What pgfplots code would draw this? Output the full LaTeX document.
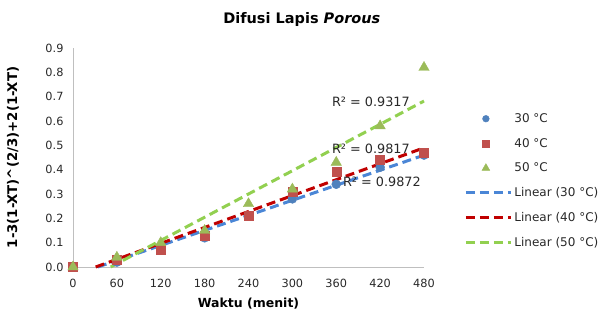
\documentclass[border=0pt]{standalone}
\usepackage{pgfplots}
\pgfplotsset{compat=1.18}
\usepackage{fontspec}
\setmainfont{DejaVu Sans}
\definecolor{c30}{RGB}{79,129,189}
\definecolor{c40}{RGB}{192,80,77}
\definecolor{c50}{RGB}{155,187,89}
\definecolor{t30}{RGB}{74,134,214}
\definecolor{t40}{RGB}{192,0,0}
\definecolor{t50}{RGB}{146,208,80}
\definecolor{axgray}{RGB}{191,191,191}
\definecolor{txt}{RGB}{40,40,40}
\pgfplotsset{
  markleg/.style={legend image code/.code={\draw[mark repeat=2,mark phase=2,##1, mark options={scale=0.75}] plot coordinates {(0pt,0pt)(20pt,0pt)(40pt,0pt)};}},
  lineleg/.style={legend image code/.code={\draw[##1] (0pt,0pt) -- (45pt,0pt);}},
}
\begin{document}
\begin{tikzpicture}
\useasboundingbox (-73pt,-45pt) rectangle (529pt,267pt);
\begin{axis}[
  scale only axis, width=351pt, height=219pt,
  at={(0,0)}, anchor=south west,
  xmin=0, xmax=480, ymin=0, ymax=0.9,
  clip=false,
  axis lines*=left,
  axis line style={axgray, line width=0.8pt},
  major tick length=0pt,
  xtick={0,60,120,180,240,300,360,420,480},
  ytick={0,0.1,0.2,0.3,0.4,0.5,0.6,0.7,0.8,0.9},
  /pgf/number format/assume math mode=true,
  yticklabel style={/pgf/number format/fixed, /pgf/number format/fixed zerofill, /pgf/number format/precision=1, font=\fontsize{11.3}{13}\selectfont, text=txt, xshift=-6pt},
  xticklabel style={font=\fontsize{11.3}{13}\selectfont, text=txt, yshift=-9pt},
  every axis title shift=0pt,
  title={\textbf{Difusi Lapis \textit{Porous}}},
  title style={at={(axis description cs:0.652,1.132)}, anchor=center, font=\fontsize{14.5}{17}\selectfont},
  xlabel={Waktu (menit)},
  xlabel style={at={(axis description cs:0.5,-0.168)}, anchor=center, font=\bfseries\fontsize{12.5}{14}\selectfont},
  ylabel={1-3(1-XT)\string^(2/3)+2(1-XT)},
  ylabel style={at={(axis description cs:-0.171,0.5)}, anchor=center, font=\bfseries\fontsize{13.3}{15}\selectfont},
  legend style={at={(axis description cs:1.106,0.72)}, anchor=north west, draw=none, fill=none,
    font=\fontsize{12}{14}\selectfont, text=txt, row sep=10.3pt, cells={anchor=west}},
  legend cell align=left,
]
\addplot[only marks, mark=*, mark size=4.5pt, color=c30, markleg]
  coordinates {(0,0) (60,0.02) (120,0.07) (180,0.12) (240,0.21) (300,0.28) (360,0.34) (420,0.41) (480,0.46)};
\addlegendentry{30 °C}
\addplot[only marks, mark=square*, mark size=4.5pt, color=c40, markleg]
  coordinates {(0,0) (60,0.03) (120,0.07) (180,0.13) (240,0.21) (300,0.31) (360,0.39) (420,0.44) (480,0.47)};
\addlegendentry{40 °C}
\addplot[only marks, mark=triangle*, mark size=6pt, color=c50, markleg]
  coordinates {(0,0) (60,0.04) (120,0.10) (180,0.15) (240,0.26) (300,0.32) (360,0.43) (420,0.58) (480,0.82)};
\addlegendentry{50 °C}
\addplot[t30, line width=3pt, dash pattern=on 9pt off 5pt, no marks, lineleg]
  coordinates {(34,0) (480,0.4596)};
\addlegendentry{Linear (30 °C)}
\addplot[t40, line width=3pt, dash pattern=on 9pt off 5pt, no marks, lineleg]
  coordinates {(31,0) (480,0.4898)};
\addlegendentry{Linear (40 °C)}
\addplot[t50, line width=3pt, dash pattern=on 9pt off 5pt, no marks, lineleg]
  coordinates {(51.5,0) (480,0.682)};
\addlegendentry{Linear (50 °C)}
\node[anchor=west, text=txt, font=\fontsize{12.8}{14}\selectfont, inner sep=0pt] at (axis cs:354,0.678) {R² = 0.9317};
\node[anchor=west, text=txt, font=\fontsize{12.8}{14}\selectfont, inner sep=0pt] at (axis cs:354,0.485) {R² = 0.9817};
\node[anchor=west, text=txt, font=\fontsize{12.8}{14}\selectfont, inner sep=0pt] at (axis cs:369,0.35) {R² = 0.9872};
\end{axis}
\end{tikzpicture}
\end{document}
